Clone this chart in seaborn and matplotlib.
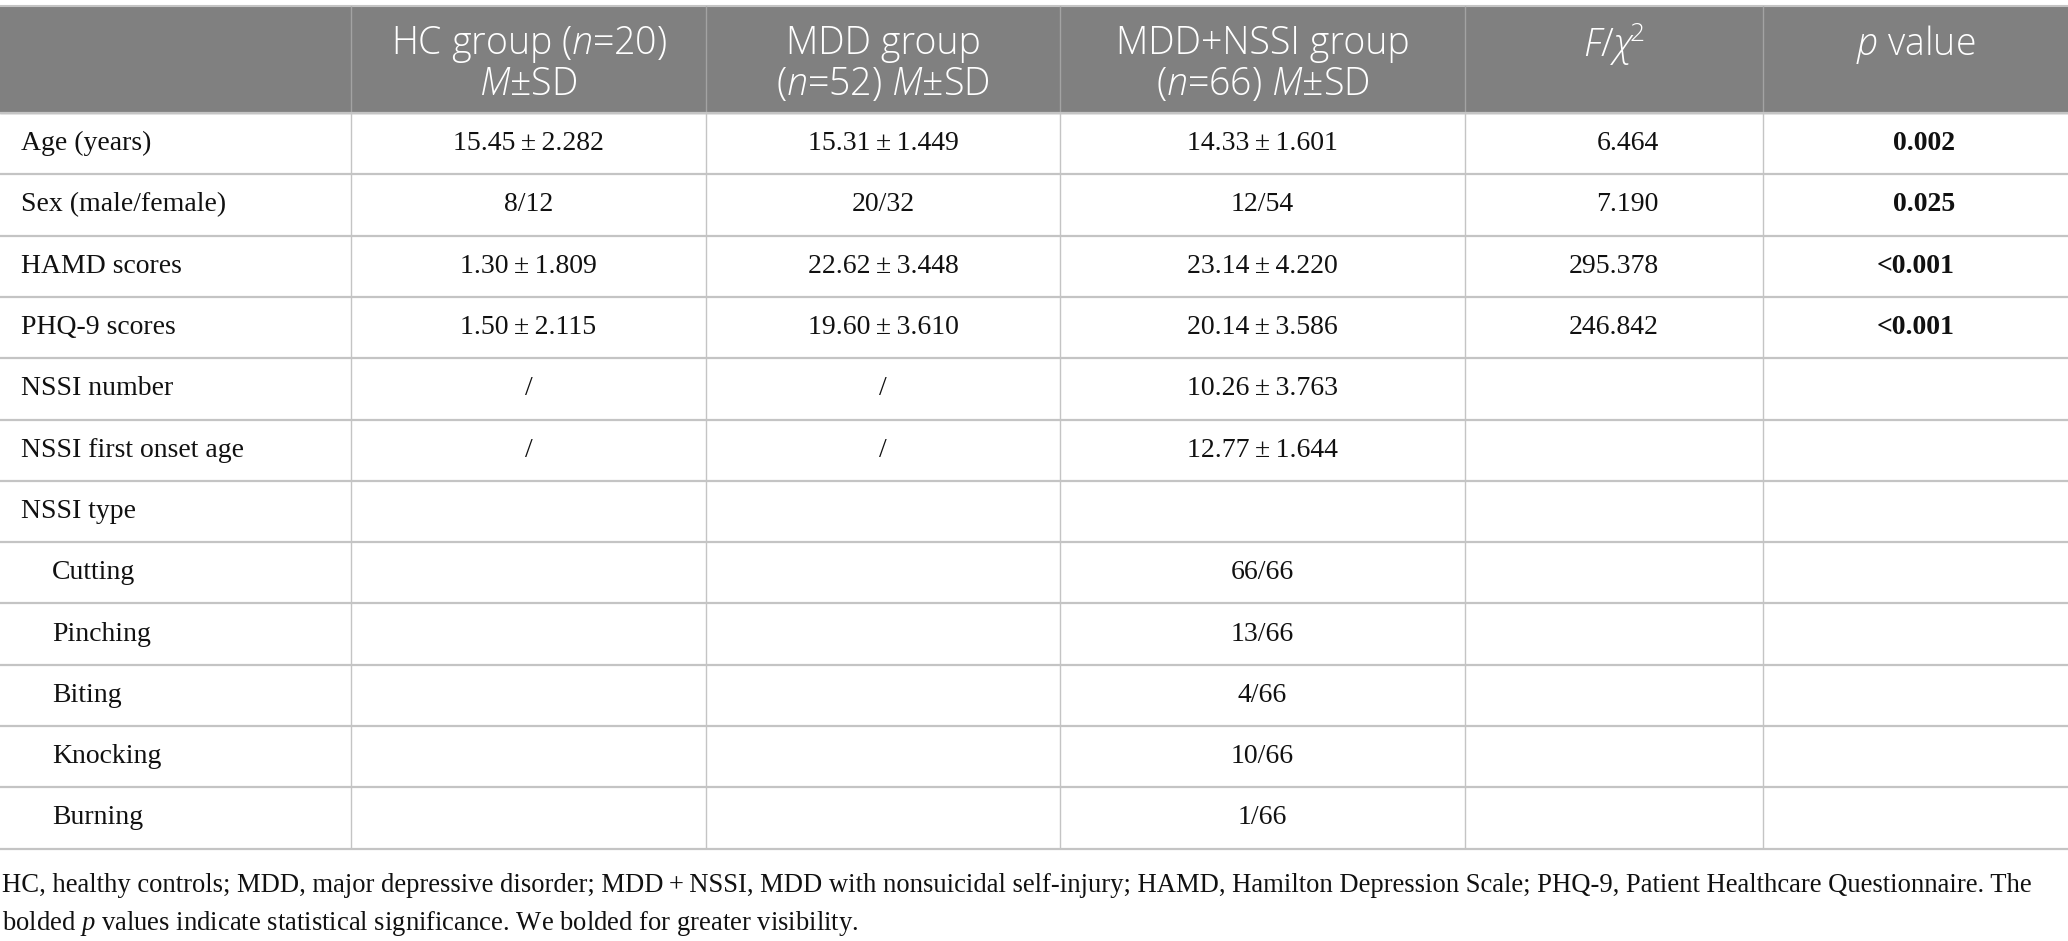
import matplotlib.pyplot as plt
import seaborn as sns

# table content
row_labels = ["Age (years)", "Sex (male/female)", "HAMD scores", "PHQ-9 scores",
              "NSSI number", "NSSI first onset age", "NSSI type",
              "Cutting", "Pinching", "Biting", "Knocking", "Burning"]
row_indent = [0, 0, 0, 0, 0, 0, 0, 1, 1, 1, 1, 1]
hc_vals = ["15.45\u2009±\u20092.282", "8/12", "1.30\u2009±\u20091.809", "1.50\u2009±\u20092.115",
           "/", "/", "", "", "", "", "", ""]
mdd_vals = ["15.31\u2009±\u20091.449", "20/32", "22.62\u2009±\u20093.448", "19.60\u2009±\u20093.610",
            "/", "/", "", "", "", "", "", ""]
nssi_vals = ["14.33\u2009±\u20091.601", "12/54", "23.14\u2009±\u20094.220", "20.14\u2009±\u20093.586",
             "10.26\u2009±\u20093.763", "12.77\u2009±\u20091.644", "",
             "66/66", "13/66", "4/66", "10/66", "1/66"]
f_vals = ["6.464", "7.190", "295.378", "246.842", "", "", "", "", "", "", "", ""]
p_vals = ["0.002", "0.025", "<0.001", "<0.001", "", "", "", "", "", "", "", ""]

headers = [
    [],
    [r"HC group ($\mathit{n}$=20)", r"$\mathit{M}$±SD"],
    [r"MDD group", r"($\mathit{n}$=52) $\mathit{M}$±SD"],
    [r"MDD+NSSI group", r"($\mathit{n}$=66) $\mathit{M}$±SD"],
    [r"$\mathit{F/\chi^{\!2}}$"],
    [r"$\mathit{p}$ value"],
]

footnote = [
    "HC, healthy controls; MDD, major depressive disorder; MDD\u2009+\u2009NSSI, MDD with nonsuicidal "
    "self-injury; HAMD, Hamilton Depression Scale; PHQ-9, Patient Healthcare Questionnaire. The",
    r"bolded $\mathsf{p}$ values indicate statistical significance. We bolded for greater visibility.",
]

sns.set_theme(style="white")
plt.rcParams["mathtext.fontset"] = "custom"
plt.rcParams["mathtext.rm"] = "Open Sans:light"
plt.rcParams["mathtext.it"] = "Open Sans:italic:light"
plt.rcParams["mathtext.sf"] = "Liberation Serif:italic"

serif = ["Liberation Serif", "DejaVu Serif"]
sans = ["Open Sans", "DejaVu Sans"]

W, H = 2068, 941
fig = plt.figure(figsize=(W / 100, H / 100), dpi=100)
ax = fig.add_axes([0, 0, 1, 1])
ax.set_xlim(0, W)
ax.set_ylim(H, 0)
ax.axis("off")

col_edges = [0, 351, 706, 1060, 1465, 1763, 2068]
top, head_bottom, row_h = 6, 113, 61.3
n_rows = len(row_labels)
bottom = head_bottom + n_rows * row_h
grid = "#c4c4c4"

# header band
ax.fill_between([0, W], top, head_bottom, color="#808080", zorder=0)
ax.hlines(top, 0, W, color=grid, lw=1.5)
for x in col_edges[1:-1]:
    ax.vlines(x, top, head_bottom, color="#a3a3a3", lw=1)
    ax.vlines(x, head_bottom, bottom, color=grid, lw=1)
for i in range(n_rows + 1):
    ax.hlines(head_bottom + i * row_h, 0, W, color=grid, lw=1.6)

for j, lines in enumerate(headers):
    cx = (col_edges[j] + col_edges[j + 1]) / 2
    for k, line in enumerate(lines):
        ax.text(cx, 44 + k * 41, line, ha="center", va="center", color="white",
                fontsize=27, family=sans, fontweight="light")

cols = [hc_vals, mdd_vals, nssi_vals]
for i in range(n_rows):
    cy = head_bottom + (i + 0.5) * row_h
    x0 = 21 if row_indent[i] == 0 else 52
    ax.text(x0, cy, row_labels[i], ha="left", va="center", fontsize=20, family=serif, color="#111111")
    for j, vals in enumerate(cols):
        cx = (col_edges[j + 1] + col_edges[j + 2]) / 2
        ax.text(cx, cy, vals[i], ha="center", va="center", fontsize=20, family=serif, color="#111111")
    ax.text(1659, cy, f_vals[i], ha="right", va="center", fontsize=20, family=serif, color="#111111")
    ax.text(1955, cy, p_vals[i], ha="right", va="center", fontsize=20, family=serif,
            fontweight="bold", color="#111111")

for k, line in enumerate(footnote):
    ax.text(2, 886 + k * 37, line, ha="left", va="center", fontsize=19.2, family=serif, color="#111111")

fig.savefig("out.png", dpi=100)
